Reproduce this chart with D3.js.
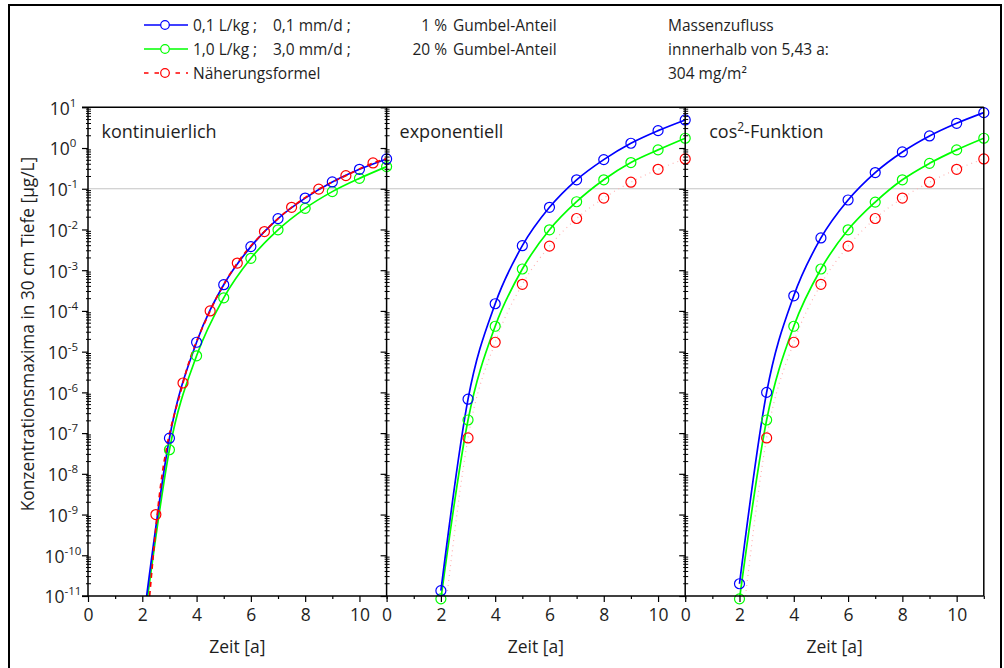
<!DOCTYPE html>
<html>
<head>
<meta charset="utf-8">
<script src="https://cdn.jsdelivr.net/npm/d3@7/dist/d3.min.js"></script>
<style>
  body { margin: 0; background: #fff; }
  text { font-family: "Open Sans", sans-serif; fill: #1e1e1e; }
</style>
</head>
<body>
<svg id="chart" width="1004" height="668"></svg>
<script>
// ---- data ----
var panelNames = ['kontinuierlich', 'exponentiell', 'cos'];
var xTicks = [0, 2, 4, 6, 8, 10];
var xMinorTicks = [1, 3, 5, 7, 9, 11];
var yExponents = [-11, -10, -9, -8, -7, -6, -5, -4, -3, -2, -1, 0, 1];

// panel 1: kontinuierlich
var contT = [3, 4, 5, 6, 7, 8, 9, 10, 11];
var contBlue = [7.5e-8, 1.7e-5, 4.4e-4, 3.8e-3, 0.0185, 0.059, 0.147, 0.30, 0.54];
var contGreen = [3.9e-8, 7.9e-6, 2.1e-4, 1.96e-3, 9.8e-3, 0.033, 0.085, 0.18, 0.35];
var contRedT = [2.5, 3.5, 4.5, 5.5, 6.5, 7.5, 8.5, 9.5, 10.5];
var contRed = [1e-9, 1.7e-6, 1.0e-4, 1.5e-3, 8.9e-3, 0.035, 0.098, 0.21, 0.43];
// where the curves leave the lower edge (t, value)
var contBlueStart = [2.16, 1e-11];
var contGreenStart = [2.2, 1e-11];
var contRedCurveT = [2.27, 2.55, 3.5, 4.5, 5.5, 6.5, 7.5, 8.5, 9.5, 10.5, 11];
var contRedCurve = [1e-11, 1e-9, 1.7e-6, 1.0e-4, 1.5e-3, 8.9e-3, 0.035, 0.098, 0.21, 0.43, 0.55];

// panel 2: exponentiell
var pT = [2, 3, 4, 5, 6, 7, 8, 9, 10, 11];
var expBlue = [1.35e-11, 6.8e-7, 1.5e-4, 4.0e-3, 0.035, 0.166, 0.52, 1.31, 2.67, 4.9];
var expGreen = [8.5e-12, 2.1e-7, 4.2e-5, 1.07e-3, 9.8e-3, 0.048, 0.166, 0.44, 0.90, 1.74];
// panel 3: cos2-Funktion
var cosBlue = [2.0e-11, 1.0e-6, 2.35e-4, 6.2e-3, 0.053, 0.25, 0.80, 1.98, 4.05, 7.4];
var cosGreen = [8.5e-12, 2.1e-7, 4.2e-5, 1.07e-3, 9.8e-3, 0.047, 0.166, 0.42, 0.90, 1.74];
// Naeherungsformel in panels 2 and 3
var approxT = [3, 4, 5, 6, 7, 8, 9, 10, 11];
var approxRed = [7.6e-8, 1.7e-5, 4.5e-4, 3.9e-3, 0.0186, 0.059, 0.145, 0.30, 0.54];
var approxStart = [2.22, 1e-11];

// legend texts, split in columns
var legendKd = ['0,1 L/kg ;', '1,0 L/kg ;'];
var legendRate = ['0,1 mm/d ;', '3,0 mm/d ;'];
var legendGumbel = ['1 %', '20 %'];
var legendTail = 'Gumbel-Anteil';
var legendApprox = 'Näherungsformel';
var noteLines = ['Massenzufluss', 'innnerhalb von 5,43 a:', '304 mg/m²'];

var BLUE = '#0000ff', GREEN = '#00ff00', RED = '#ff0000';

// ---- layout ----
var svg = d3.select('#chart');
var plotTop = 107.3, plotBottom = 596;
var pw = 298.6, left0 = 88;

svg.append('rect')
  .attr('x', 9).attr('y', 5).attr('width', 992).attr('height', 672)
  .attr('fill', 'none').attr('stroke', '#000').attr('stroke-width', 2);

var y = d3.scaleLog().domain([1e-11, 10]).range([plotBottom, plotTop]);

function pts(ts, vs) {
  return ts.map(function(t, i) { return [t, vs[i]]; });
}

var panels = [
  { lines: [
      { d: [contGreenStart].concat(pts(contT, contGreen)), c: GREEN },
      { d: [contBlueStart].concat(pts(contT, contBlue)), c: BLUE },
      { d: pts(contRedCurveT, contRedCurve), c: RED, dash: '5,4' }
    ],
    marks: [
      { d: pts(contT, contGreen), c: GREEN },
      { d: pts(contRedT, contRed), c: RED },
      { d: pts(contT, contBlue), c: BLUE }
    ] },
  { lines: [
      { d: [approxStart].concat(pts(approxT, approxRed)), c: '#ffb4b4', dash: '1,4', w: 1.2 },
      { d: pts(pT, expGreen), c: GREEN },
      { d: pts(pT, expBlue), c: BLUE }
    ],
    marks: [
      { d: pts(approxT, approxRed), c: RED },
      { d: pts(pT, expGreen), c: GREEN },
      { d: pts(pT, expBlue), c: BLUE }
    ] },
  { lines: [
      { d: [approxStart].concat(pts(approxT, approxRed)), c: '#ffb4b4', dash: '1,4', w: 1.2 },
      { d: pts(pT, cosGreen), c: GREEN },
      { d: pts(pT, cosBlue), c: BLUE }
    ],
    marks: [
      { d: pts(approxT, approxRed), c: RED },
      { d: pts(pT, cosGreen), c: GREEN },
      { d: pts(pT, cosBlue), c: BLUE }
    ] }
];

// gray reference line at 0.1 across all panels
svg.append('line')
  .attr('x1', left0).attr('x2', left0 + 3 * pw)
  .attr('y1', y(0.1)).attr('y2', y(0.1))
  .attr('stroke', '#c4c4c4').attr('stroke-width', 1.2);

var minorY = [];
yExponents.slice(0, -1).forEach(function(e) {
  d3.range(2, 10).forEach(function(m) { minorY.push(m * Math.pow(10, e)); });
});

panels.forEach(function(p, i) {
  var x0 = left0 + i * pw;
  var x = d3.scaleLinear().domain([0, 11]).range([x0, x0 + pw]);
  var g = svg.append('g');

  g.append('clipPath').attr('id', 'clip' + i)
    .append('rect').attr('x', x0).attr('y', plotTop).attr('width', pw).attr('height', plotBottom - plotTop);

  var line = d3.line()
    .x(function(d) { return x(d[0]); })
    .y(function(d) { return y(d[1]); })
    .curve(d3.curveMonotoneX);

  p.lines.forEach(function(l) {
    g.append('path')
      .attr('clip-path', 'url(#clip' + i + ')')
      .attr('d', line(l.d))
      .attr('fill', 'none')
      .attr('stroke', l.c)
      .attr('stroke-width', l.w || 1.7)
      .attr('stroke-dasharray', l.dash || null);
  });

  p.marks.forEach(function(m) {
    g.selectAll(null).data(m.d).enter().append('circle')
      .attr('cx', function(d) { return x(d[0]); })
      .attr('cy', function(d) { return y(d[1]); })
      .attr('r', 5)
      .attr('fill', 'none')
      .attr('stroke', m.c)
      .attr('stroke-width', 1.2);
  });

  // x axis
  var xa = g.append('g').attr('transform', 'translate(0,' + plotBottom + ')');
  xa.call(d3.axisBottom(x).tickValues(xTicks).tickSize(6).tickPadding(7)
      .tickFormat(d3.format('d')));
  xa.append('g').call(d3.axisBottom(x).tickValues(xMinorTicks).tickSize(3).tickFormat(''));
  xa.selectAll('.domain').remove();
  xa.selectAll('line').attr('stroke', '#000').attr('stroke-width', 1.2);
  xa.selectAll('text').attr('font-size', 17.5).attr('font-family', '"Open Sans", sans-serif')
    .attr('fill', '#1e1e1e');

  // y axis (left edge of each panel)
  var ya = g.append('g').attr('transform', 'translate(' + x0 + ',0)');
  ya.call(d3.axisLeft(y).tickValues(yExponents.map(function(e) { return Math.pow(10, e); }))
      .tickSize(6).tickFormat(''));
  ya.selectAll('.domain').remove();
  ya.selectAll('line').attr('stroke', '#000').attr('stroke-width', 1.2);
  ya.selectAll('.minor').data(minorY).enter().append('line')
    .attr('x1', -2).attr('x2', 3)
    .attr('y1', function(d) { return y(d); }).attr('y2', function(d) { return y(d); })
    .attr('stroke', '#000').attr('stroke-width', 1);

  // frame line
  g.append('line').attr('x1', x0).attr('x2', x0).attr('y1', plotTop).attr('y2', plotBottom)
    .attr('stroke', '#000').attr('stroke-width', 1.5);

  // panel title
  var title = g.append('text').attr('x', x0 + (i === 0 ? 13.5 : (i === 1 ? 13 : 24)))
    .attr('y', 137.5).attr('font-size', 18);
  if (i < 2) {
    title.text(panelNames[i]);
  } else {
    title.append('tspan').text(panelNames[i]);
    title.append('tspan').attr('dy', -7).attr('font-size', 12).text('2');
    title.append('tspan').attr('dy', 7).text('-Funktion');
  }

  g.append('text').attr('x', x0 + pw / 2).attr('y', 653).attr('text-anchor', 'middle')
    .attr('font-size', 17.5).text('Zeit [a]');
});

// outer lines of the panel block
svg.append('line').attr('x1', left0 - 6).attr('x2', left0 + 3 * pw)
  .attr('y1', plotTop).attr('y2', plotTop).attr('stroke', '#000').attr('stroke-width', 1.5);
svg.append('line').attr('x1', left0 - 6).attr('x2', left0 + 3 * pw)
  .attr('y1', plotBottom).attr('y2', plotBottom).attr('stroke', '#000').attr('stroke-width', 1.5);
svg.append('line').attr('x1', left0 + 3 * pw).attr('x2', left0 + 3 * pw)
  .attr('y1', plotTop).attr('y2', plotBottom).attr('stroke', '#000').attr('stroke-width', 1.5);

// y tick labels 10^e
yExponents.forEach(function(e) {
  var t = svg.append('text').attr('x', 63).attr('y', y(Math.pow(10, e)) + 7.3)
    .attr('text-anchor', 'middle').attr('font-size', 17.5);
  t.append('tspan').text('10');
  t.append('tspan').attr('dy', -8).attr('font-size', 11.5).text(e < 0 ? '-' + (-e) : '' + e);
});

// y axis title
svg.append('text')
  .attr('transform', 'translate(34,334) rotate(-90)')
  .attr('text-anchor', 'middle').attr('font-size', 17.3)
  .text('Konzentrationsmaxima in 30 cm Tiefe [µg/L]');

// legend
var legColors = [BLUE, GREEN, RED];
var legY = [25, 49, 73];
legColors.forEach(function(c, i) {
  var lg = svg.append('g');
  lg.append('line').attr('x1', 144).attr('x2', 188).attr('y1', legY[i]).attr('y2', legY[i])
    .attr('stroke', c).attr('stroke-width', 1.7)
    .attr('stroke-dasharray', i === 2 ? '4.5,6' : null);
  lg.append('circle').attr('cx', 165).attr('cy', legY[i]).attr('r', 4.3)
    .attr('fill', '#fff').attr('stroke', c).attr('stroke-width', 1.2);
  var ty = legY[i] + 5.5;
  if (i < 2) {
    lg.append('text').attr('x', 193).attr('y', ty).attr('font-size', 15.5).text(legendKd[i]);
    lg.append('text').attr('x', 273).attr('y', ty).attr('font-size', 15.5).text(legendRate[i]);
    lg.append('text').attr('x', 447).attr('y', ty).attr('font-size', 15.5)
      .attr('text-anchor', 'end').text(legendGumbel[i]);
    lg.append('text').attr('x', 453).attr('y', ty).attr('font-size', 15.5).text(legendTail);
  } else {
    lg.append('text').attr('x', 193).attr('y', ty).attr('font-size', 15.5).text(legendApprox);
  }
});

noteLines.forEach(function(s, i) {
  svg.append('text').attr('x', 668).attr('y', legY[i] + 5.5).attr('font-size', 15.5).text(s);
});
</script>
</body>
</html>
